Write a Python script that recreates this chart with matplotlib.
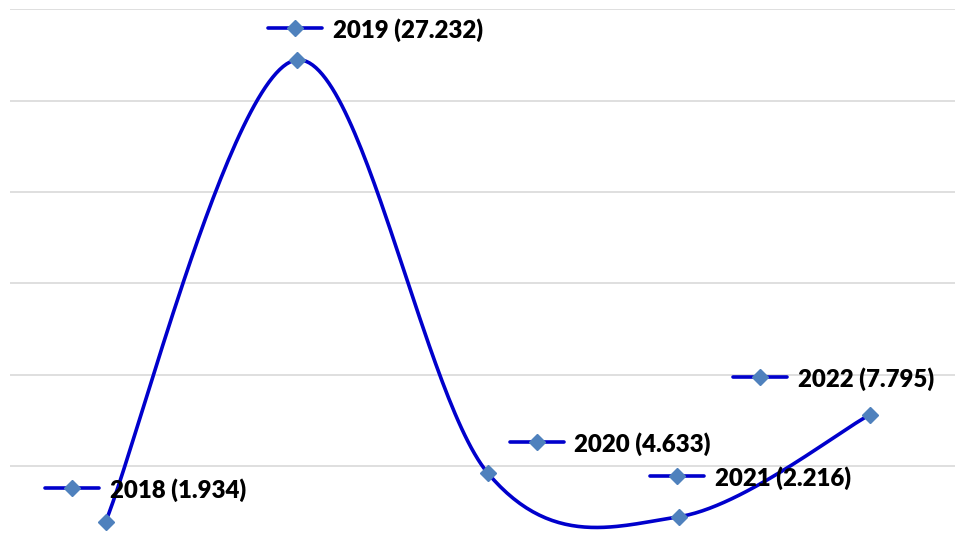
import numpy as np
import matplotlib
matplotlib.use("Agg")
import matplotlib.pyplot as plt

# Yearly values
years = ["2018", "2019", "2020", "2021", "2022"]
values = [1.934, 27.232, 4.633, 2.216, 7.795]

# Label placement: offset (in pixels, x right / y up) of the label key centre from its point
label_offsets = [(-34, 34), (-2, 32), (49, 31), (-2, 41), (-110, 38)]

LINE_COLOR = "#0000CC"
MARKER_COLOR = "#4F81BD"
GRID_COLOR = "#D9D9D9"

W, H, DPI = 955, 554, 100
fig = plt.figure(figsize=(W / DPI, H / DPI), dpi=DPI)
fig.patch.set_facecolor("white")

# Axes frame: category axis spans 10px..965px, value axis 0..30
left_px, right_px = 10, 965
top_px, bottom_px = 9.4, 557.3
ax = fig.add_axes([left_px / W, 1 - bottom_px / H,
                   (right_px - left_px) / W, (bottom_px - top_px) / H])
ax.set_xlim(-0.5, len(years) - 0.5)
ax.set_ylim(0, 30)
ax.set_yticks([5, 10, 15, 20, 25, 30])
ax.yaxis.grid(True, color=GRID_COLOR, linewidth=1.2)
ax.set_axisbelow(True)
ax.tick_params(left=False, bottom=False, labelleft=False, labelbottom=False)
for s in ax.spines.values():
    s.set_visible(False)


def smooth_curve(xs, ys, n=60):
    """Piecewise cubic Bezier through the points (Catmull-Rom tangents)."""
    pts = np.column_stack([xs, ys]).astype(float)
    out = []
    m = len(pts)
    for i in range(m - 1):
        p0 = pts[i - 1] if i > 0 else pts[i]
        p1 = pts[i]
        p2 = pts[i + 1]
        p3 = pts[i + 2] if i + 2 < m else pts[i + 1]
        c1 = p1 + (p2 - p0) / 6.0
        c2 = p2 - (p3 - p1) / 6.0
        t = np.linspace(0, 1, n)[:, None]
        seg = ((1 - t) ** 3) * p1 + 3 * ((1 - t) ** 2) * t * c1 \
            + 3 * (1 - t) * t ** 2 * c2 + t ** 3 * p2
        out.append(seg if i == 0 else seg[1:])
    return np.vstack(out)


LW = 2.6
MS = 8

x = np.arange(len(years))
curve = smooth_curve(x, values)
ax.plot(curve[:, 0], curve[:, 1], color=LINE_COLOR, linewidth=LW,
        solid_capstyle="round", zorder=3)
ax.plot(x, values, linestyle="none", marker="D", markersize=MS,
        markerfacecolor=MARKER_COLOR, markeredgecolor=MARKER_COLOR, zorder=4)

# Data labels with a legend key in front of the text
for xi, yi, yr, (dx, dy) in zip(x, values, years, label_offsets):
    px, py = ax.transData.transform((xi, yi))
    kx, ky = px + dx, py + dy
    fig.add_artist(plt.Line2D([kx - 27, kx + 27], [ky, ky], transform=None,
                              color=LINE_COLOR, linewidth=LW,
                              solid_capstyle="round", zorder=5))
    fig.add_artist(plt.Line2D([kx], [ky], transform=None, linestyle="none",
                              marker="D", markersize=MS,
                              markerfacecolor=MARKER_COLOR,
                              markeredgecolor=MARKER_COLOR, zorder=6))
    fig.text((kx + 38) / W, ky / H, f"{yr} ({yi:.3f})", ha="left",
             va="center_baseline", fontsize=17.3, fontweight="heavy",
             family="Lato", color="black", zorder=7)

fig.savefig("out.png", dpi=DPI, facecolor="white")
